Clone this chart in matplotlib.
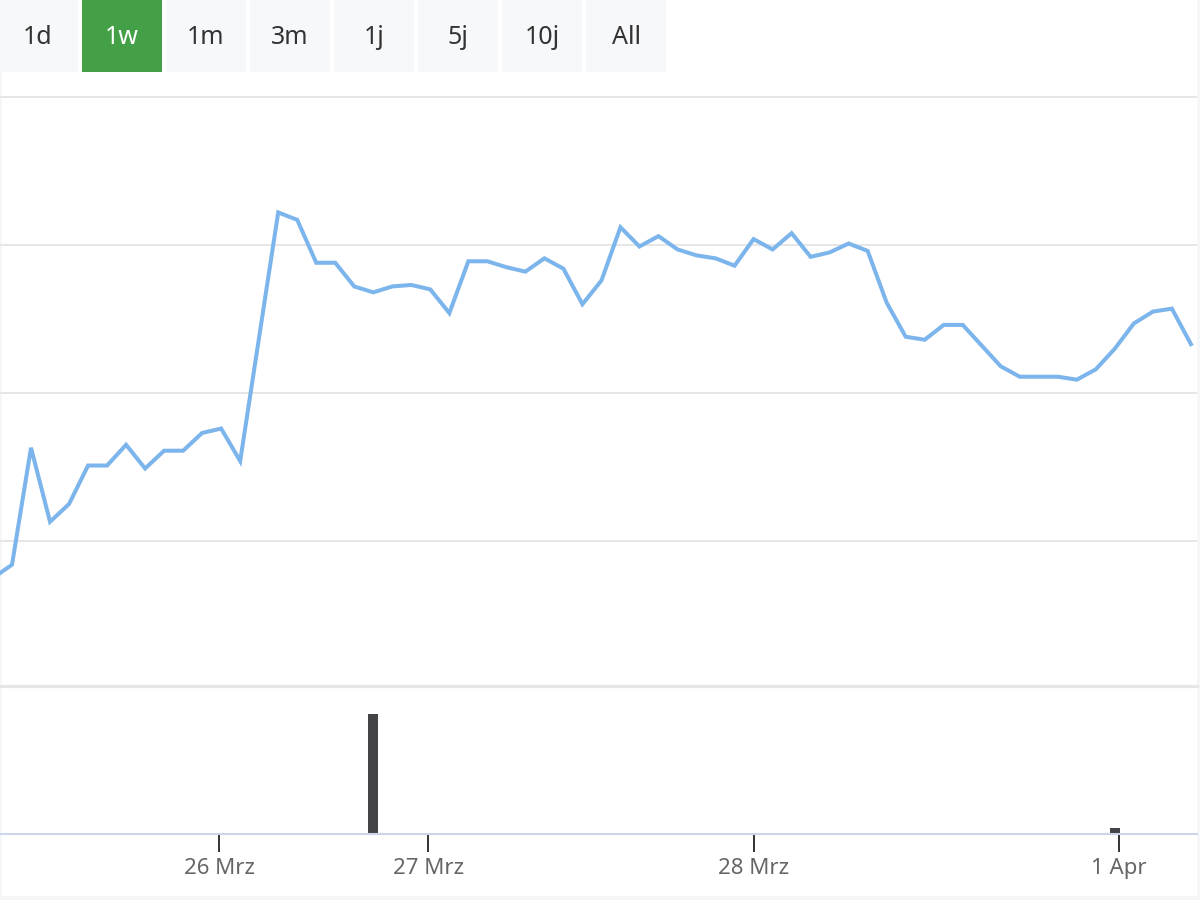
import matplotlib.pyplot as plt
from matplotlib.patches import Rectangle

plt.rcParams['font.family'] = ['Noto Sans', 'DejaVu Sans']

W, H = 1200, 900

# closing prices, one per interval (no y labels in the chart, grid at 1..4)
price = [0.75, 0.84, 1.63, 1.13, 1.25, 1.51, 1.51, 1.65, 1.49, 1.61,
         1.61, 1.73, 1.76, 1.54, 2.38, 3.22, 3.17, 2.88, 2.88, 2.72,
         2.68, 2.72, 2.73, 2.70, 2.54, 2.89, 2.89, 2.85, 2.82, 2.91,
         2.84, 2.60, 2.76, 3.12, 2.99, 3.06, 2.97, 2.93, 2.91, 2.86,
         3.04, 2.97, 3.08, 2.92, 2.95, 3.01, 2.96, 2.61, 2.38, 2.36,
         2.46, 2.46, 2.32, 2.18, 2.11, 2.11, 2.11, 2.09, 2.16, 2.30,
         2.47, 2.55, 2.57, 2.33]
first_idx = -1

volume_idx = [19, 58]
volume = [24000, 1200]

tick_pos = [10.9, 21.9, 39.0, 58.2]
tick_labels = ["26 Mrz", "27 Mrz", "28 Mrz", "1 Apr"]

buttons = ["1d", "1w", "1m", "3m", "1j", "5j", "10j", "All"]
active = "1w"


def px_box(x0, y0, x1, y1):
    return [x0 / W, 1 - y1 / H, (x1 - x0) / W, (y1 - y0) / H]


fig = plt.figure(figsize=(12, 9), dpi=100, facecolor='white')

# background layer for buttons and frame
bg = fig.add_axes([0, 0, 1, 1], zorder=-1)
bg.set_xlim(0, W)
bg.set_ylim(H, 0)
bg.axis('off')
bg.add_patch(Rectangle((0, 72), 2, H - 72, color='#f5f6f8', lw=0))
bg.add_patch(Rectangle((1197, 0), 3, H, color='#f5f6f8', lw=0))
bg.add_patch(Rectangle((0, 896), W, 4, color='#f5f6f8', lw=0))

for i, lab in enumerate(buttons):
    x0 = -2 + 84 * i
    on = lab == active
    bg.add_patch(Rectangle((x0, 0), 80, 72, lw=0,
                           color='#43a047' if on else '#f7f8fa'))
    bg.text(x0 + 40, 37, lab, ha='center', va='center', fontsize=18,
            color='white' if on else '#333333')

xs = list(range(first_idx, first_idx + len(price)))
xlim = (-0.631, 62.32)

# price panel
ax = fig.add_axes(px_box(0, 95, 1197, 686))
ax.set_facecolor('none')
ax.plot(xs, price, color='#7cb5ec', lw=2.9, solid_joinstyle='miter')
ax.set_xlim(*xlim)
ax.set_ylim(0.0203, 4.0135)
ax.set_yticks([1, 2, 3, 4])
ax.grid(axis='y', color='#e6e6e6', lw=1.4)
ax.set_xticks([])
ax.tick_params(left=False, labelleft=False)
for s in ['left', 'right', 'top']:
    ax.spines[s].set_visible(False)
ax.spines['bottom'].set_color('#e6e6e6')
ax.spines['bottom'].set_linewidth(2.3)

# volume panel
av = fig.add_axes(px_box(0, 688, 1197, 834))
av.set_facecolor('none')
av.bar(volume_idx, volume, width=0.53, color='#434348')
av.set_xlim(*xlim)
av.set_ylim(0, 29200)
av.set_yticks([])
for s in ['left', 'right', 'top']:
    av.spines[s].set_visible(False)
av.spines['bottom'].set_color('#ccd6eb')
av.spines['bottom'].set_linewidth(1.5)
av.set_xticks(tick_pos, tick_labels)
av.tick_params(axis='x', length=13, width=1.4, color='#333333',
               labelcolor='#666666', labelsize=16, pad=4.5)

fig.savefig('out.png', dpi=100, facecolor='white')
